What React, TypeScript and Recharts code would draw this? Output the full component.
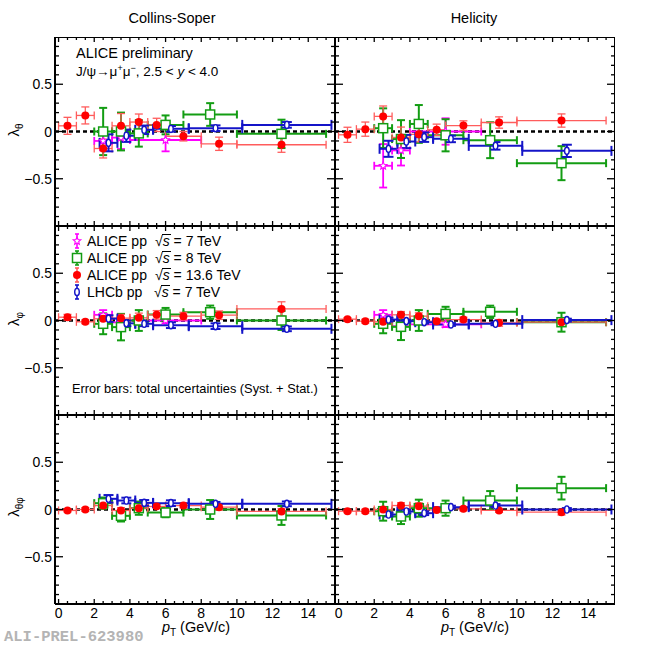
import React from "react";
import { ComposedChart, Scatter, ErrorBar, XAxis, YAxis, ReferenceLine } from "recharts";

const FONT = "'Liberation Sans', Arial, Helvetica, sans-serif";

// pT bin centres (GeV/c) and half widths
const redPt = [0.5, 1.5, 2.5, 3.5, 4.5, 5.5, 7, 9, 12.5];
const redPtErr = [0.5, 0.5, 0.5, 0.5, 0.5, 0.5, 1, 1, 2.5];
const greenPt = [2.5, 3.5, 4.5, 6, 8.5, 12.5];
const greenPtErr = [0.5, 0.5, 0.5, 1, 1.5, 2.5];
const bluePt = [2.8, 3.8, 4.8, 6.3, 8.8, 12.8];
const bluePtErr = [0.5, 0.5, 0.5, 1, 1.5, 2.5];
const magPt = [2.5, 3.5, 6];
const magPtErr = [0.5, 0.5, 2];

// Collins-Soper, lambda_theta
const csThRed = [0.06, 0.17, -0.18, 0.06, 0.1, 0.07, -0.05, -0.13, -0.14];
const csThRedErr = [0.09, 0.09, 0.1, 0.13, 0.085, 0.07, 0.05, 0.07, 0.08];
const csThGreen = [0.0, 0.0, -0.02, 0.07, 0.18, -0.025];
const csThGreenErr = [0.25, 0.2, 0.14, 0.1, 0.12, 0.15];
const csThBlue = [-0.12, -0.045, 0.018, 0.028, 0.035, 0.07];
const csThBlueErr = [0.09, 0.065, 0.045, 0.03, 0.03, 0.03];
const csThMag = [-0.1, -0.065, -0.09];
const csThMagErr = [0.1, 0.12, 0.12];

// Helicity, lambda_theta
const hxThRed = [-0.035, 0.025, 0.16, -0.063, -0.03, 0.018, 0.063, 0.095, 0.116];
const hxThRedErr = [0.08, 0.075, 0.11, 0.11, 0.08, 0.06, 0.05, 0.06, 0.07];
const hxThGreen = [0.035, -0.08, 0.08, -0.04, -0.092, -0.335];
const hxThGreenErr = [0.21, 0.2, 0.2, 0.17, 0.19, 0.18];
const hxThBlue = [-0.183, -0.106, -0.06, -0.078, -0.152, -0.205];
const hxThBlueErr = [0.085, 0.07, 0.05, 0.035, 0.04, 0.065];
const hxThMag = [-0.363, -0.2, 0.0];
const hxThMagErr = [0.23, 0.16, 0.14];

// Collins-Soper, lambda_phi
const csPhRed = [0.035, -0.014, 0.018, 0.025, 0.028, 0.06, 0.046, 0.056, 0.123];
const csPhRedErr = [0.03, 0.02, 0.04, 0.04, 0.05, 0.045, 0.04, 0.045, 0.075];
const csPhGreen = [-0.035, -0.07, 0.0, 0.063, 0.088, 0.0];
const csPhGreenErr = [0.11, 0.14, 0.11, 0.07, 0.07, 0.1];
const csPhBlue = [0.02, -0.03, -0.035, -0.05, -0.06, -0.088];
const csPhBlueErr = [0.035, 0.03, 0.025, 0.03, 0.03, 0.025];
const csPhMag = [0.06, -0.02, 0.0];
const csPhMagErr = [0.05, 0.04, 0.03];

// Helicity, lambda_phi
const hxPhRed = [0.014, -0.007, -0.014, 0.06, 0.046, -0.007, 0.01, -0.025, -0.018];
const hxPhRedErr = [0.015, 0.02, 0.035, 0.035, 0.035, 0.02, 0.025, 0.035, 0.03];
const hxPhGreen = [-0.035, -0.067, 0.0, 0.07, 0.092, -0.018];
const hxPhGreenErr = [0.1, 0.14, 0.11, 0.075, 0.065, 0.1];
const hxPhBlue = [0.01, -0.007, -0.018, -0.042, -0.035, 0.004];
const hxPhBlueErr = [0.02, 0.015, 0.015, 0.015, 0.015, 0.015];
const hxPhMag = [0.06, -0.06, -0.04];
const hxPhMagErr = [0.05, 0.04, 0.03];

// Collins-Soper, lambda_thetaphi
const csTpRed = [-0.01, 0.0, 0.042, -0.01, 0.014, 0.032, 0.042, 0.025, -0.02];
const csTpRedErr = [0.015, 0.02, 0.03, 0.03, 0.03, 0.02, 0.025, 0.03, 0.03];
const csTpGreen = [0.067, -0.067, 0.014, -0.032, 0.0, -0.063];
const csTpGreenErr = [0.06, 0.06, 0.07, 0.05, 0.1, 0.1];
const csTpBlue = [0.113, 0.095, 0.07, 0.067, 0.06, 0.06];
const csTpBlueErr = [0.04, 0.03, 0.03, 0.03, 0.02, 0.025];

// Helicity, lambda_thetaphi
const hxTpRed = [-0.018, -0.018, 0.0, 0.042, 0.035, -0.004, 0.007, -0.01, -0.028];
const hxTpRedErr = [0.015, 0.02, 0.03, 0.03, 0.035, 0.02, 0.02, 0.02, 0.03];
const hxTpGreen = [-0.018, -0.074, 0.014, 0.014, 0.095, 0.226];
const hxTpGreenErr = [0.1, 0.08, 0.09, 0.08, 0.1, 0.12];
const hxTpBlue = [-0.053, -0.021, -0.039, 0.025, 0.042, 0.0];
const hxTpBlueErr = [0.02, 0.02, 0.02, 0.015, 0.015, 0.015];

// axis ticks: every 0.5 in pT (labels every 2), every 0.1 in lambda (labels every 0.5)
const xLabels = [0, 2, 4, 6, 8, 10, 12, 14];
const yLabels = [-0.5, 0, 0.5];
const xTicks = Array.from({ length: 32 }, (_, i) => i * 0.5);
const yTicks = Array.from({ length: 19 }, (_, i) => Math.round((i - 9) * 10) / 100);
const yTickText: Record<string, string> = { "-0.5": "\u22120.5", "0": "0", "0.5": "0.5" };

const W = 280;
const H = 189;
const LBL = 55;
const colLeft = [0, 280];
const rowTop = [37, 226, 415];
const X_DOM: [number, number] = [-0.2, 15.5];
const Y_DOM: [number, number] = [-1, 1];

// tick marks on the left and right frame edges, one per lambda tick
const yFrameTicks = yTicks.flatMap((v) => [
  { x: X_DOM[0], y: v, side: 1 },
  { x: X_DOM[1], y: v, side: -1 },
]);

const RED = "#ff0000";
const RED_BAR = "#ff5c5c";
const GREEN = "#139d13";
const BLUE = "#1414c8";
const MAG = "#ff00ff";

const pts = (xs: number[], exs: number[], ys: number[], eys: number[]) =>
  xs.map((x, i) => ({ x, ex: exs[i], y: ys[i], ey: eys[i] }));

const RedDot = ({ cx, cy }: any) => <circle cx={cx} cy={cy} r={4} fill={RED} />;
const GreenSquare = ({ cx, cy }: any) => (
  <rect x={cx - 4.5} y={cy - 4.5} width={9} height={9} fill="#fff" stroke={GREEN} strokeWidth={1.5} />
);
const BlueDiamond = ({ cx, cy }: any) => (
  <ellipse cx={cx} cy={cy} rx={2.3} ry={3.6} fill="#fff" stroke={BLUE} strokeWidth={1.4} />
);
const MagStar = ({ cx, cy }: any) => {
  const p: string[] = [];
  for (let i = 0; i < 10; i++) {
    const r = i % 2 === 0 ? 4 : 1.8;
    const a = -Math.PI / 2 + (i * Math.PI) / 5;
    p.push(`${cx + r * Math.cos(a)},${cy + r * Math.sin(a)}`);
  }
  return <polygon points={p.join(" ")} fill="#fff" stroke={MAG} strokeWidth={1.1} />;
};

const FrameTick = ({ cx, cy, payload }: any) => {
  const major = yLabels.includes(payload.y);
  const len = major ? 8 : 4;
  return <line x1={cx} x2={cx + payload.side * len} y1={cy} y2={cy} stroke="#000" strokeWidth={1.3} />;
};

// ROOT style: ticks inside the frame on both opposite sides, labels outside
const XTick = ({ x, y, payload, showLabel }: any) => {
  const v = payload.value;
  const major = xLabels.includes(v);
  const len = major ? 5 : 3;
  return (
    <g>
      <line x1={x} x2={x} y1={y} y2={y - len} stroke="#000" strokeWidth={1.3} />
      <line x1={x} x2={x} y1={y - H} y2={y - H + len} stroke="#000" strokeWidth={1.3} />
      {showLabel && major && (
        <text x={x} y={y + 13.5} textAnchor="middle" fontSize={14} fontFamily={FONT} fill="#000">{v}</text>
      )}
    </g>
  );
};

const YLabel = ({ x, y, payload, showLabel }: any) => {
  const v = payload.value;
  if (!showLabel || !yLabels.includes(v)) return <g />;
  return (
    <text x={x - 3} y={y + 5} textAnchor="end" fontSize={14} fontFamily={FONT} fill="#000">{yTickText[String(v)]}</text>
  );
};

const frameLine = { stroke: "#000", strokeWidth: 2 };

type Sets = {
  red: number[][];
  green: number[][];
  blue: number[][];
  mag?: number[][];
};

function Series({ data, color, barColor, shape, cap, sw }: any) {
  return (
    <Scatter data={data} xAxisId="xl" yAxisId="yl" shape={shape} isAnimationActive={false}>
      <ErrorBar dataKey="ex" direction="x" width={cap} stroke={barColor || color} strokeWidth={sw} />
      <ErrorBar dataKey="ey" direction="y" width={cap} stroke={barColor || color} strokeWidth={sw} />
    </Scatter>
  );
}

function Panel({ col, row, sets }: { col: number; row: number; sets: Sets }) {
  const bottom = row === 2;
  const showY = col === 0;
  const h = H + (bottom ? 28 : 1);
  return (
    <div style={{ position: "absolute", left: colLeft[col], top: rowTop[row] }}>
      <ComposedChart width={LBL + W} height={h} margin={{ top: 0, right: 0, bottom: 0, left: 0 }}>
        <XAxis xAxisId="xl" type="number" dataKey="x" domain={X_DOM} allowDataOverflow orientation="bottom" height={bottom ? 28 : 1}
          ticks={xTicks} interval={0} tickSize={0} tickMargin={0} tickLine={false} axisLine={false}
          tick={(p: any) => <XTick {...p} showLabel={bottom} />} />
        <YAxis yAxisId="yl" type="number" dataKey="y" domain={Y_DOM} allowDataOverflow orientation="left" width={LBL}
          ticks={yTicks} interval={0} tickSize={0} tickMargin={0} tickLine={false} axisLine={false}
          tick={(p: any) => <YLabel {...p} showLabel={showY} />} />
        <XAxis xAxisId="b" type="number" domain={X_DOM} orientation="bottom" mirror height={1} tick={false} tickLine={false} axisLine={frameLine} />
        <XAxis xAxisId="t" type="number" domain={X_DOM} orientation="top" mirror height={1} tick={false} tickLine={false} axisLine={frameLine} />
        <YAxis yAxisId="l" type="number" domain={Y_DOM} orientation="left" mirror width={1} tick={false} tickLine={false} axisLine={frameLine} />
        <YAxis yAxisId="r" type="number" domain={Y_DOM} orientation="right" mirror width={1} tick={false} tickLine={false} axisLine={frameLine} />
        <Scatter data={yFrameTicks} xAxisId="xl" yAxisId="yl" shape={FrameTick} isAnimationActive={false} />
        <ReferenceLine xAxisId="xl" yAxisId="yl" y={0} stroke="#000" strokeWidth={2.4} strokeDasharray="4 3" />
        {sets.mag && (
          <Series data={pts(magPt, magPtErr, sets.mag[0], sets.mag[1])} color={MAG} shape={MagStar} cap={4} sw={1.8} />
        )}
        <Series data={pts(greenPt, greenPtErr, sets.green[0], sets.green[1])} color={GREEN} shape={GreenSquare} cap={4} sw={2} />
        <Series data={pts(redPt, redPtErr, sets.red[0], sets.red[1])} color={RED} barColor={RED_BAR} shape={RedDot} cap={4} sw={1.3} />
        <Series data={pts(bluePt, bluePtErr, sets.blue[0], sets.blue[1])} color={BLUE} shape={BlueDiamond} cap={5} sw={2} />
      </ComposedChart>
    </div>
  );
}

function LegendMark({ y, color, Shape }: any) {
  return (
    <g>
      <line x1={77} x2={77} y1={y - 7} y2={y + 7} stroke={color} strokeWidth={1.6} />
      <line x1={75} x2={79} y1={y - 7} y2={y - 7} stroke={color} strokeWidth={1.6} />
      <line x1={75} x2={79} y1={y + 7} y2={y + 7} stroke={color} strokeWidth={1.6} />
      <Shape cx={77} cy={y} />
    </g>
  );
}

function SqrtS({ x, y, e }: { x: number; y: number; e: string }) {
  return (
    <g>
      <text x={x} y={y} fontSize={14} fontFamily={FONT}>
        {"\u221A"}
        <tspan fontStyle="italic">s</tspan>
        <tspan>{" = " + e}</tspan>
      </text>
      <line x1={x + 7} x2={x + 16} y1={y - 11.5} y2={y - 11.5} stroke="#000" strokeWidth={1} />
    </g>
  );
}

function YTitle({ cy, sub }: { cy: number; sub: string }) {
  return (
    <text transform={`translate(19, ${cy}) rotate(-90)`} textAnchor="middle" fontSize={15} fontFamily={FONT}>
      {"\u03BB"}
      <tspan fontSize={10} dy={4}>{sub}</tspan>
    </text>
  );
}

function XTitle({ cx }: { cx: number }) {
  return (
    <text x={cx} y={632} textAnchor="middle" fontSize={14.5} fontFamily={FONT}>
      <tspan fontStyle="italic">p</tspan>
      <tspan fontSize={10} dy={4}>T</tspan>
      <tspan dy={-4}>{" (GeV/c)"}</tspan>
    </text>
  );
}

export default function App() {
  return (
    <div style={{ position: "absolute", left: 0, top: 0, width: 650, height: 647, background: "#fff", fontFamily: FONT }}>
      <Panel col={0} row={0} sets={{ red: [csThRed, csThRedErr], green: [csThGreen, csThGreenErr], blue: [csThBlue, csThBlueErr], mag: [csThMag, csThMagErr] }} />
      <Panel col={1} row={0} sets={{ red: [hxThRed, hxThRedErr], green: [hxThGreen, hxThGreenErr], blue: [hxThBlue, hxThBlueErr], mag: [hxThMag, hxThMagErr] }} />
      <Panel col={0} row={1} sets={{ red: [csPhRed, csPhRedErr], green: [csPhGreen, csPhGreenErr], blue: [csPhBlue, csPhBlueErr], mag: [csPhMag, csPhMagErr] }} />
      <Panel col={1} row={1} sets={{ red: [hxPhRed, hxPhRedErr], green: [hxPhGreen, hxPhGreenErr], blue: [hxPhBlue, hxPhBlueErr], mag: [hxPhMag, hxPhMagErr] }} />
      <Panel col={0} row={2} sets={{ red: [csTpRed, csTpRedErr], green: [csTpGreen, csTpGreenErr], blue: [csTpBlue, csTpBlueErr] }} />
      <Panel col={1} row={2} sets={{ red: [hxTpRed, hxTpRedErr], green: [hxTpGreen, hxTpGreenErr], blue: [hxTpBlue, hxTpBlueErr] }} />

      <svg width={650} height={647} style={{ position: "absolute", left: 0, top: 0, pointerEvents: "none" }}>
        <text x={172} y={23} textAnchor="middle" fontSize={14.5} fontFamily={FONT}>Collins-Soper</text>
        <text x={474} y={23} textAnchor="middle" fontSize={14.5} fontFamily={FONT}>Helicity</text>

        <text x={76} y={58} fontSize={14.5} fontFamily={FONT}>ALICE preliminary</text>
        <text x={76} y={76} fontSize={13.5} fontFamily={FONT}>
          {"J/\u03C8\u2192\u03BC"}
          <tspan fontSize={9} dy={-5}>+</tspan>
          <tspan dy={5}>{"\u03BC"}</tspan>
          <tspan fontSize={9} dy={-5}>{"\u2212"}</tspan>
          <tspan dy={5}>{", 2.5 < "}</tspan>
          <tspan fontStyle="italic">y</tspan>
          <tspan>{" < 4.0"}</tspan>
        </text>

        <LegendMark y={241} color={MAG} Shape={MagStar} />
        <LegendMark y={258} color={GREEN} Shape={GreenSquare} />
        <LegendMark y={275} color={RED_BAR} Shape={RedDot} />
        <LegendMark y={292} color={BLUE} Shape={BlueDiamond} />
        <text x={87} y={246} fontSize={14} fontFamily={FONT}>ALICE pp</text>
        <text x={87} y={263} fontSize={14} fontFamily={FONT}>ALICE pp</text>
        <text x={87} y={280} fontSize={14} fontFamily={FONT}>ALICE pp</text>
        <text x={87} y={297} fontSize={14} fontFamily={FONT}>LHCb pp</text>
        <SqrtS x={155} y={246} e="7 TeV" />
        <SqrtS x={155} y={263} e="8 TeV" />
        <SqrtS x={155} y={280} e="13.6 TeV" />
        <SqrtS x={154} y={297} e="7 TeV" />

        <text x={72} y={393} fontSize={12.8} fontFamily={FONT}>Error bars: total uncertainties (Syst. + Stat.)</text>

        <YTitle cy={130} sub={"\u03B8"} />
        <YTitle cy={319} sub={"\u03C6"} />
        <YTitle cy={507} sub={"\u03B8\u03C6"} />

        <XTitle cx={196} />
        <XTitle cx={475} />

        <text x={4} y={641} fontSize={15.5} fontWeight="bold" fontFamily="'Liberation Mono', 'DejaVu Sans Mono', monospace" fill="#b4b4b4">
          ALI-PREL-623980
        </text>
      </svg>
    </div>
  );
}
